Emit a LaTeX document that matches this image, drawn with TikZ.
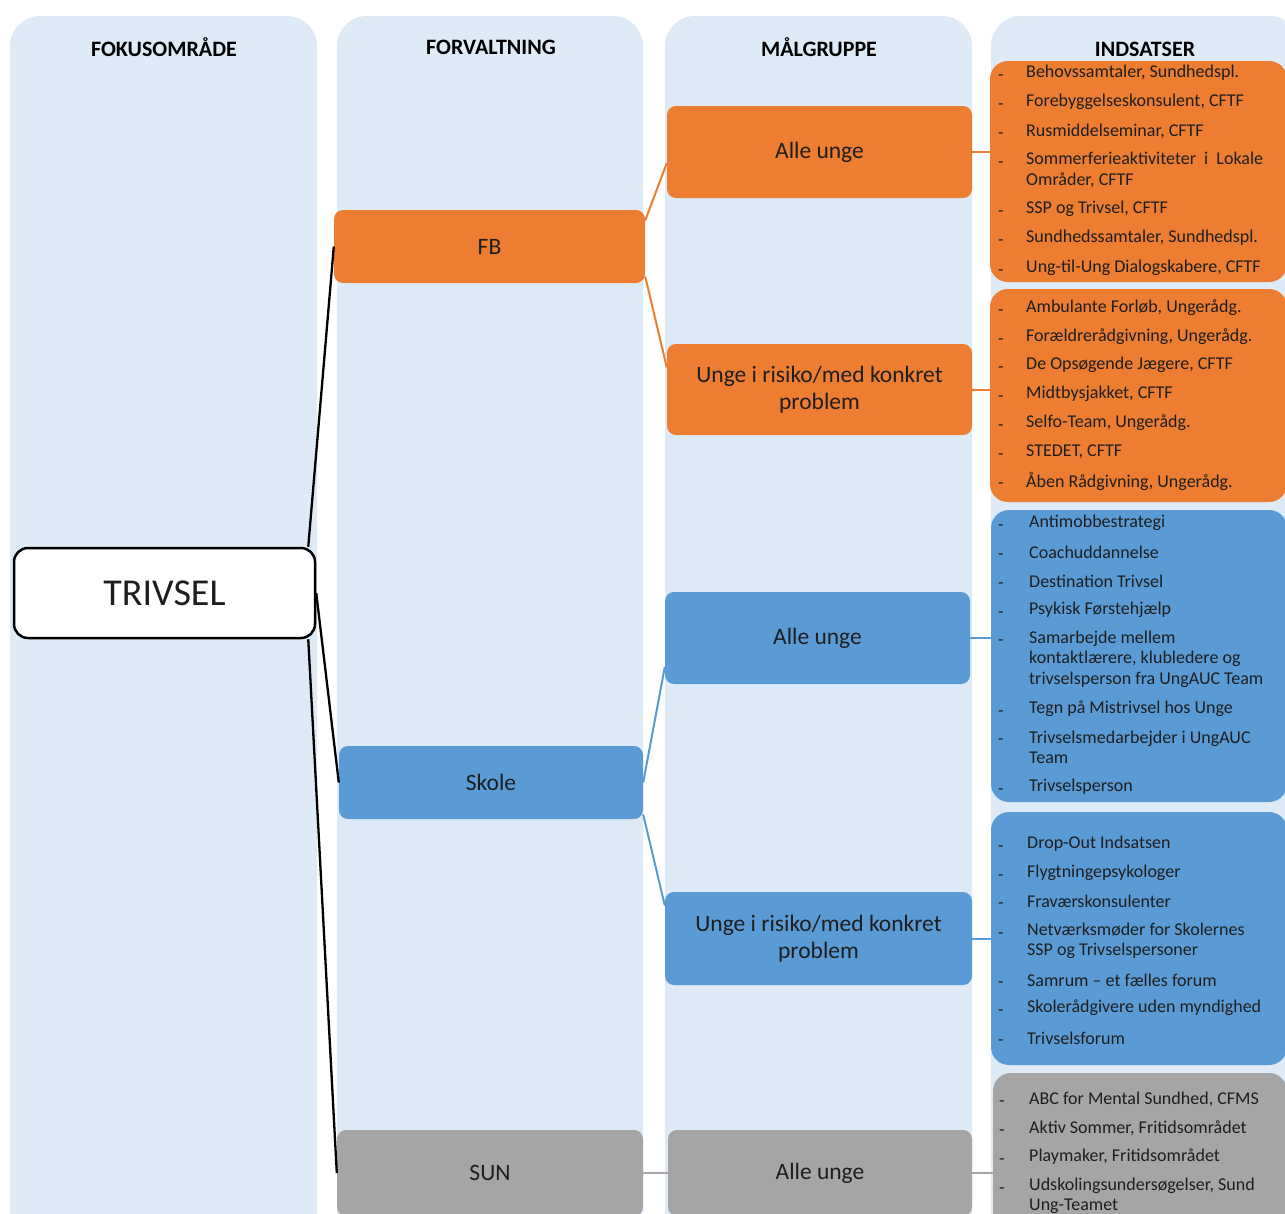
\documentclass[tikz,border=0pt]{standalone}
\usepackage{fontspec}
\setmainfont{Carlito}
\definecolor{colbg}{RGB}{222,234,246}
\definecolor{orng}{RGB}{237,125,49}
\definecolor{blu}{RGB}{91,155,213}
\definecolor{gry}{RGB}{165,165,165}
\definecolor{txt}{RGB}{30,30,30}
\begin{document}
\begin{tikzpicture}[x=1pt,y=-1pt,
  hdr/.style={font=\fontsize{22}{24}\selectfont\bfseries, text=black},
  lvl/.style={rounded corners=9pt, inner sep=0pt, text=txt, align=center,
    font=\fontsize{23.5}{27}\selectfont},
  obox/.style={lvl, fill=orng},
  bbox/.style={lvl, fill=blu},
  gbox/.style={lvl, fill=gry},
  ibox/.style={rounded corners=18pt, inner sep=0pt},
  itm/.style={anchor=west, inner sep=0pt, align=left, text=txt,
    font=\fontsize{18}{20.5}\selectfont},
  dsh/.style={anchor=west, inner sep=0pt, yshift=-3pt, text=txt, font=\fontsize{18}{20.5}\selectfont},
  blk/.style={draw=black, line width=2.3pt},
  ocon/.style={draw=orng, line width=2pt},
  bcon/.style={draw=blu, line width=2pt},
  gcon/.style={draw=gry, line width=2pt}]
\useasboundingbox (0,0) rectangle (1285,1213);
\clip (0,0) rectangle (1285,1213);
\fill[white] (0,0) rectangle (1285,1213);
% columns
\fill[colbg, rounded corners=30pt] (10,16) rectangle (317,1260);
\fill[colbg, rounded corners=30pt] (337,16) rectangle (643,1260);
\fill[colbg, rounded corners=30pt] (665,16) rectangle (972,1260);
\fill[colbg, rounded corners=30pt] (991,16) rectangle (1300,1260);
% headers
\node[hdr] (h1) at (164,47) {FOKUSOMRÅDE};
\node[hdr] (h2) at (491,47) {FORVALTNING};
\node[hdr] (h3) at (819,47) {MÅLGRUPPE};
\node[hdr] (h4) at (1145,49) {INDSATSER};
% indsatser boxes
\node[ibox, fill=orng, minimum width=297pt, minimum height=221pt] (ob1) at (1138.5,171.5) {};
\node[ibox, fill=orng, minimum width=297pt, minimum height=213pt] (ob2) at (1138.5,395.5) {};
\node[ibox, fill=blu, minimum width=296pt, minimum height=292pt] (bb1) at (1139,656) {};
\node[ibox, fill=blu, minimum width=296pt, minimum height=253pt] (bb2) at (1139,938.5) {};
\node[ibox, fill=gry, minimum width=294pt, minimum height=167pt] (gb1) at (1140,1156.5) {};
% level nodes
\node[draw=black, line width=2.5pt, fill=white, rounded corners=14pt, minimum width=301pt, minimum height=90pt, inner sep=0pt, font=\fontsize{38}{40}\selectfont, text=txt] (T) at (164.5,593) {TRIVSEL};
\node[obox, minimum width=311pt, minimum height=73pt] (FB) at (489.5,246.5) {FB};
\node[bbox, minimum width=304pt, minimum height=73pt] (SK) at (491,782.5) {Skole};
\node[gbox, minimum width=306pt, minimum height=86pt] (SUN) at (490,1173) {SUN};
\node[obox, minimum width=305pt, minimum height=92pt] (oA) at (819.5,152) {Alle unge};
\node[obox, minimum width=305pt, minimum height=91pt] (oU) at (819.5,389.5) {Unge i risiko/med konkret\\problem};
\node[bbox, minimum width=305pt, minimum height=92pt] (bA) at (817.5,638) {Alle unge};
\node[bbox, minimum width=307pt, minimum height=93pt] (bU) at (818.5,938.5) {Unge i risiko/med konkret\\problem};
\node[gbox, minimum width=304pt, minimum height=86pt] (gA) at (820,1173) {Alle unge};
% connectors
\draw[blk] ([xshift=-8pt]T.north east) -- (FB.west);
\draw[blk] (T.east) -- (SK.west);
\draw[blk] ([xshift=-8pt]T.south east) -- (SUN.west);
\draw[ocon] ([yshift=26pt]FB.east) -- ([yshift=-11pt]oA.west);
\draw[ocon] ([yshift=-30pt]FB.east) -- ([yshift=22pt]oU.west);
\draw[bcon] (SK.east) -- ([yshift=-29pt]bA.west);
\draw[bcon] ([yshift=-32pt]SK.east) -- ([yshift=33pt]bU.west);
\draw[gcon] (SUN.east) -- (gA.west);
\draw[ocon] (oA.east) -- (oA.east -| ob1.west);
\draw[ocon] (oU.east) -- (oU.east -| ob2.west);
\draw[bcon] (bA.east) -- (bA.east -| bb1.west);
\draw[bcon] (bU.east) -- (bU.east -| bb2.west);
\draw[gcon] (gA.east) -- (gA.east -| gb1.west);
% items orange 1
\node[dsh] (d1) at (998,73) {\vphantom{Ag}-};   \node[itm] (i1) at (1026,73) {Behovssamtaler, Sundhedspl.};
\node[dsh] (d2) at (998,102) {\vphantom{Ag}-};  \node[itm] (i2) at (1026,102) {Forebyggelseskonsulent, CFTF};
\node[dsh] (d3) at (998,131) {\vphantom{Ag}-};  \node[itm] (i3) at (1026,131) {Rusmiddelseminar, CFTF};
\node[dsh] (d4) at (998,160) {\vphantom{Ag}-};  \node[itm] (i4) at (1026,170) {Sommerferieaktiviteter\hspace{0.45em}i\hspace{0.45em}Lokale\\Områder, CFTF};
\node[dsh] (d5) at (998,209) {\vphantom{Ag}-};  \node[itm] (i5) at (1026,209) {SSP og Trivsel, CFTF};
\node[dsh] (d6) at (998,238) {\vphantom{Ag}-};  \node[itm] (i6) at (1026,238) {Sundhedssamtaler, Sundhedspl.};
\node[dsh] (d7) at (998,268) {\vphantom{Ag}-};  \node[itm] (i7) at (1026,268) {Ung-til-Ung Dialogskabere, CFTF};
% items orange 2
\node[dsh] (d8) at (998,308) {\vphantom{Ag}-};  \node[itm] (i8) at (1026,308) {Ambulante Forløb, Ungerådg.};
\node[dsh] (d9) at (998,337) {\vphantom{Ag}-};  \node[itm] (i9) at (1026,337) {Forældrerådgivning, Ungerådg.};
\node[dsh] (d10) at (998,365) {\vphantom{Ag}-}; \node[itm] (i10) at (1026,365) {De Opsøgende Jægere, CFTF};
\node[dsh] (d11) at (998,394) {\vphantom{Ag}-}; \node[itm] (i11) at (1026,394) {Midtbysjakket, CFTF};
\node[dsh] (d12) at (998,423) {\vphantom{Ag}-}; \node[itm] (i12) at (1026,423) {Selfo-Team, Ungerådg.};
\node[dsh] (d13) at (998,452) {\vphantom{Ag}-}; \node[itm] (i13) at (1026,452) {STEDET, CFTF};
\node[dsh] (d14) at (998,481) {\vphantom{Ag}-}; \node[itm] (i14) at (1026,481) {Åben Rådgivning, Ungerådg.};
% items blue 1
\node[dsh] (d15) at (998,523) {\vphantom{Ag}-}; \node[itm] (i15) at (1029,523) {Antimobbestrategi};
\node[dsh] (d16) at (998,552) {\vphantom{Ag}-}; \node[itm] (i16) at (1029,552) {Coachuddannelse};
\node[dsh] (d17) at (998,581) {\vphantom{Ag}-}; \node[itm] (i17) at (1029,581) {Destination Trivsel};
\node[dsh] (d18) at (998,610) {\vphantom{Ag}-}; \node[itm] (i18) at (1029,610) {Psykisk Førstehjælp};
\node[dsh] (d19) at (998,638) {\vphantom{Ag}-}; \node[itm] (i19) at (1029,659) {Samarbejde mellem\\kontaktlærere, klubledere og\\trivselsperson fra UngAUC Team};
\node[dsh] (d20) at (998,709) {\vphantom{Ag}-}; \node[itm] (i20) at (1029,709) {Tegn på Mistrivsel hos Unge};
\node[dsh] (d21) at (998,737) {\vphantom{Ag}-}; \node[itm] (i21) at (1029,747.5) {Trivselsmedarbejder i UngAUC\\Team};
\node[dsh] (d22) at (998,787) {\vphantom{Ag}-}; \node[itm] (i22) at (1029,787) {Trivselsperson};
% items blue 2
\node[dsh] (d23) at (998,844) {\vphantom{Ag}-}; \node[itm] (i23) at (1027,844) {Drop-Out Indsatsen};
\node[dsh] (d24) at (998,873) {\vphantom{Ag}-}; \node[itm] (i24) at (1027,873) {Flygtningepsykologer};
\node[dsh] (d25) at (998,901) {\vphantom{Ag}-}; \node[itm] (i25) at (1027,901) {Fraværskonsulenter};
\node[dsh] (d26) at (998,931) {\vphantom{Ag}-}; \node[itm] (i26) at (1027,941) {Netværksmøder for Skolernes\\SSP og Trivselspersoner};
\node[dsh] (d27) at (998,980) {\vphantom{Ag}-}; \node[itm] (i27) at (1027,980) {Samrum – et fælles forum};
\node[dsh] (d28) at (998,1008) {\vphantom{Ag}-}; \node[itm] (i28) at (1027,1008) {Skolerådgivere uden myndighed};
\node[dsh] (d29) at (998,1038) {\vphantom{Ag}-}; \node[itm] (i29) at (1027,1038) {Trivselsforum};
% items gray
\node[dsh] (d30) at (999,1099) {\vphantom{Ag}-}; \node[itm] (i30) at (1029,1099) {ABC for Mental Sundhed, CFMS};
\node[dsh] (d31) at (999,1128) {\vphantom{Ag}-}; \node[itm] (i31) at (1029,1128) {Aktiv Sommer, Fritidsområdet};
\node[dsh] (d32) at (999,1157) {\vphantom{Ag}-}; \node[itm] (i32) at (1029,1157) {Playmaker, Fritidsområdet};
\node[dsh] (d33) at (999,1186) {\vphantom{Ag}-}; \node[itm] (i33) at (1029,1196) {Udskolingsundersøgelser, Sund\\Ung-Teamet};
\end{tikzpicture}
\end{document}
